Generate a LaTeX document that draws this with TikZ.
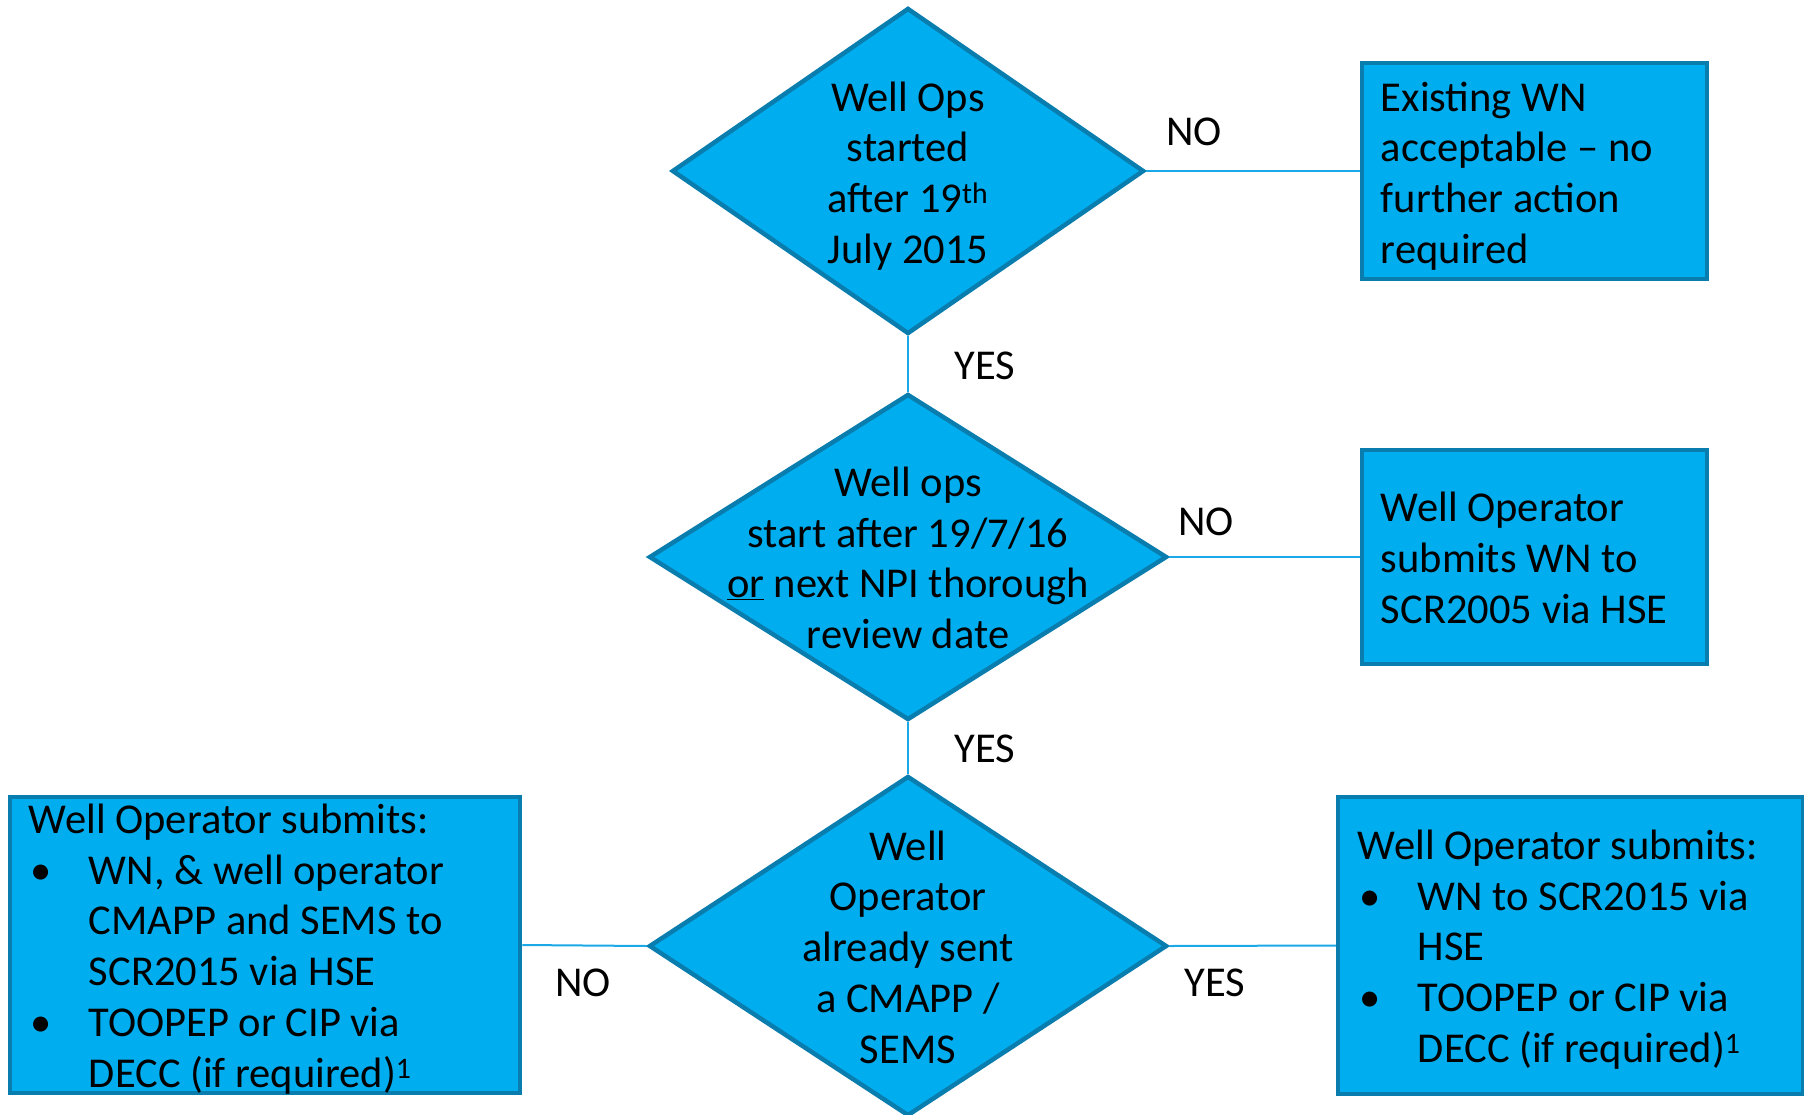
\documentclass[tikz,border=0pt]{standalone}
\usepackage{fontspec}
\setmainfont{Carlito}
\usetikzlibrary{shapes.geometric}
\definecolor{opsfill}{HTML}{00AEEF}
\definecolor{opsedge}{HTML}{0A7DAF}
\definecolor{opsline}{HTML}{1AA9E6}
\newcommand{\wellbul}{\makebox[60pt][l]{\hspace*{2pt}\textbullet}}
\newcommand{\wellind}{\hspace*{60pt}}

\begin{document}
\begin{tikzpicture}[x=1pt,y=-1pt,
    txt/.style={font=\fontsize{42.5}{50.7}\selectfont,inner sep=0pt},
    decision/.style={diamond,draw=opsedge,fill=opsfill,line width=4.5pt,inner sep=0pt},
    outcome/.style={rectangle,draw=opsedge,fill=opsfill,line width=4.5pt,inner sep=0pt},
    link/.style={draw=opsline,line width=2pt}]
  \useasboundingbox (0,0) rectangle (1804,1114);

  % the three questions
  \node[decision,minimum width=472,minimum height=326] (d1) at (908,171) {};
  \node[decision,minimum width=518,minimum height=326] (d2) at (908,557) {};
  \node[decision,minimum width=518,minimum height=340] (d3) at (908,946) {};

  % outcomes
  \node[outcome,minimum width=345,minimum height=216] (b1) at (1534.5,171) {};
  \node[outcome,minimum width=345,minimum height=214] (b2) at (1534.5,557) {};
  \node[outcome,minimum width=510,minimum height=296] (b3) at (265,945) {};
  \node[outcome,minimum width=465,minimum height=297] (b4) at (1570.5,945.5) {};

  % connectors
  \draw[link] (d1.east) -- (b1.west);
  \draw[link] (d2.east) -- (b2.west);
  \draw[link] (d1.south) -- (d2.north);
  \draw[link] (d2.south) -- (d3.north);
  \draw[link] (d3.west) -- (b3.east);
  \draw[link] (d3.east) -- (b4.west);

  % texts
  \node[txt,align=center] (d1t) at ([yshift=-5pt]d1) {Well Ops\\started\\after 19\textsuperscript{th}\\July 2015};
  \node[txt,align=center] (d2t) at ([yshift=-1pt]d2) {Well ops\\start after 19/7/16\\\underline{or} next NPI thorough\\review date};
  \node[txt,align=center] (d3t) at ([yshift=-1pt]d3) {Well\\Operator\\already sent\\a CMAPP /\\SEMS};
  \node[txt,align=left,anchor=west] (b1t) at ([xshift=21pt,yshift=-5pt]b1.west) {Existing WN\\acceptable -- no\\further action\\required};
  \node[txt,align=left,anchor=west] (b2t) at ([xshift=21pt,yshift=-1pt]b2.west) {Well Operator\\submits WN to\\SCR2005 via HSE};
  \node[txt,align=left,anchor=west] (b3t) at ([xshift=21pt,yshift=-4pt]b3.west) {Well Operator submits:\\
    \wellbul WN, \& well operator\\\wellind CMAPP and SEMS to\\\wellind SCR2015 via HSE\\
    \wellbul TOOPEP or CIP via\\\wellind DECC (if required)\textsuperscript{1}};
  \node[txt,align=left,anchor=west] (b4t) at ([xshift=22pt,yshift=-4pt]b4.west) {Well Operator submits:\\
    \wellbul WN to SCR2015 via\\\wellind HSE\\
    \wellbul TOOPEP or CIP via\\\wellind DECC (if required)\textsuperscript{1}};

  % answers
  \node[txt] (no1) at (1194,132) {NO};
  \node[txt] (yes1) at (985,366) {YES};
  \node[txt] (no2) at (1206,522) {NO};
  \node[txt] (yes2) at (985,749) {YES};
  \node[txt] (no3) at (583,983) {NO};
  \node[txt] (yes3) at (1215,983) {YES};
\end{tikzpicture}
\end{document}
